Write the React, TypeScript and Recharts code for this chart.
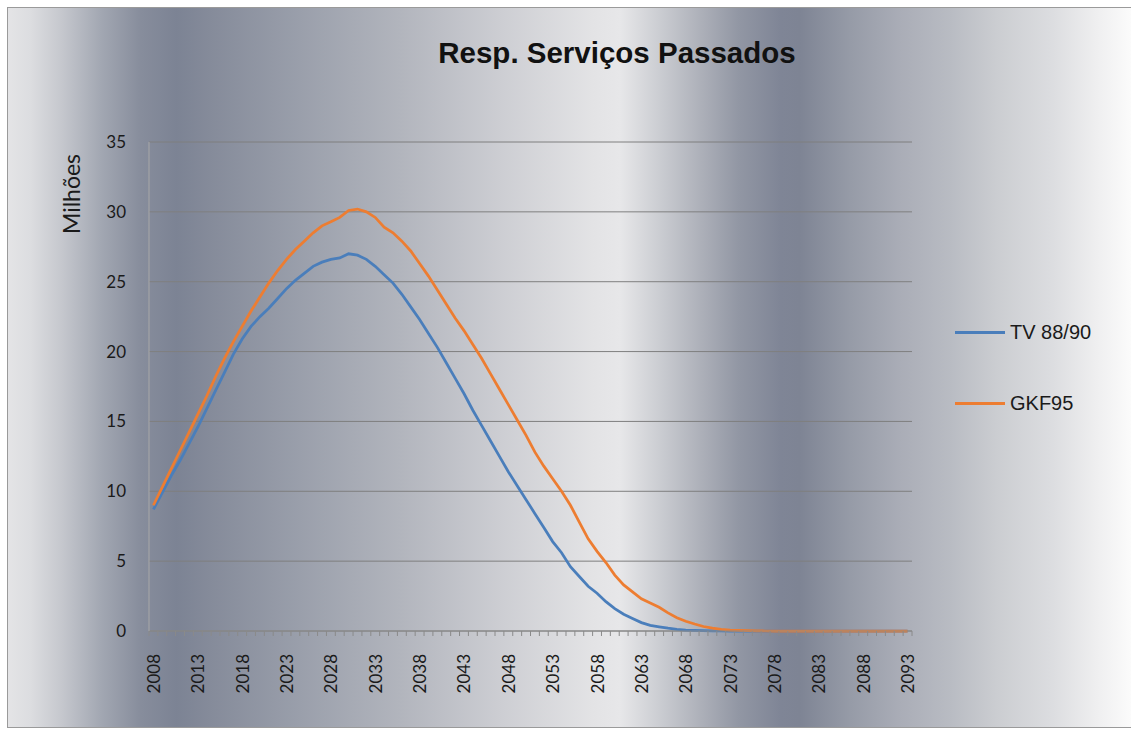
import React from 'react';
import { LineChart, Line, XAxis, YAxis, CartesianGrid, Legend } from 'recharts';

const years: number[] = [];
for (let y = 2008; y <= 2093; y++) years.push(y);

const tv8890: number[] = [
  8.7, 9.9, 11.1, 12.2, 13.4, 14.6, 15.9, 17.2, 18.5, 19.8,
  20.9, 21.8, 22.5, 23.1, 23.8, 24.5, 25.1, 25.6, 26.1, 26.4,
  26.6, 26.7, 27.0, 26.9, 26.6, 26.1, 25.5, 24.9, 24.1, 23.2,
  22.3, 21.3, 20.3, 19.2, 18.1, 17.0, 15.8, 14.7, 13.6, 12.5,
  11.4, 10.4, 9.4, 8.4, 7.4, 6.4, 5.6, 4.6, 3.9, 3.2,
  2.7, 2.1, 1.6, 1.2, 0.9, 0.6, 0.4, 0.3, 0.2, 0.12,
  0.07, 0.04, 0.02, 0.01, 0, 0, 0, 0, 0, 0,
  0, 0, 0, 0, 0, 0, 0, 0, 0, 0,
  0, 0, 0, 0, 0, 0,
];

const gkf95: number[] = [
  9.0, 10.3, 11.6, 12.9, 14.2, 15.5, 16.8, 18.2, 19.5, 20.7,
  21.8, 22.9, 23.9, 24.9, 25.8, 26.6, 27.3, 27.9, 28.5, 29.0,
  29.3, 29.6, 30.1, 30.2, 30.0, 29.6, 28.9, 28.5, 27.9, 27.2,
  26.3, 25.4, 24.4, 23.4, 22.4, 21.5, 20.5, 19.5, 18.4, 17.3,
  16.2, 15.1, 14.0, 12.8, 11.8, 10.9, 10.0, 9.0, 7.8, 6.6,
  5.7, 4.9, 4.0, 3.3, 2.8, 2.3, 2.0, 1.7, 1.3, 0.95,
  0.7, 0.5, 0.32, 0.2, 0.12, 0.07, 0.04, 0.02, 0.01, 0,
  0, 0, 0, 0, 0, 0, 0, 0, 0, 0,
  0, 0, 0, 0, 0, 0,
];

const yTicks = [0, 5, 10, 15, 20, 25, 30, 35];
const seriesNames = ['TV 88/90', 'GKF95'];
const seriesColors = ['#4A7EBB', '#ED7D31'];

const data = years.map((yr, i) => ({ year: String(yr), tv: tv8890[i], gkf: gkf95[i] }));

const W = 1123;
const H = 721;
const PLOT_LEFT = 141;
const PLOT_RIGHT = 904;
const PLOT_TOP = 134;
const PLOT_BOTTOM = 623;
const HALF = (PLOT_RIGHT - PLOT_LEFT) / years.length / 2;

const XTick = (props: any) => {
  const { x, y, payload, index } = props;
  const last = index === years.length - 1;
  return (
    <g>
      <line x1={x - HALF} y1={y} x2={x - HALF} y2={y + 5} stroke="#8a8a8a" strokeWidth={1} />
      {last && <line x1={x + HALF} y1={y} x2={x + HALF} y2={y + 5} stroke="#8a8a8a" strokeWidth={1} />}
      {index % 5 === 0 && (
        <text
          transform={`translate(${x},${y + 23}) rotate(-90)`}
          textAnchor="end"
          dominantBaseline="central"
          fontFamily="Lato"
          fontSize={17}
          fill="#1a1a1a"
        >
          {payload.value}
        </text>
      )}
    </g>
  );
};

const LegendContent = () => (
  <div style={{ fontFamily: '"Liberation Sans", Arial, sans-serif', fontSize: 20, color: '#1a1a1a' }}>
    {seriesNames.map((n, i) => (
      <div key={n} style={{ display: 'flex', alignItems: 'center', height: 24, marginBottom: i === 0 ? 47 : 0 }}>
        <div style={{ width: 50, height: 3, background: seriesColors[i], marginRight: 5 }} />
        <span>{n}</span>
      </div>
    ))}
  </div>
);

const bg =
  'linear-gradient(to right, #e4e4e6 0%, #dcdde0 2%, #c6c8ce 4.7%, #a2a7b2 8.3%, #878d9c 11.8%, #7c8394 15%, #858b9a 18%, #9a9fab 26%, #b2b5bd 35%, #cdced3 44%, #e3e3e5 52%, #e7e7e9 54.5%, #cbcdd2 58%, #adb0b9 61.7%, #9297a4 65%, #7f8596 68.8%, #7e8494 70.5%, #969ba7 75%, #aaadb7 79.5%, #b9bcc3 84%, #cbcdd1 88%, #dcdde0 93%, #efeff0 97%, #fbfbfb 100%)';

export default function App() {
  return (
    <div
      style={{
        position: 'absolute',
        left: 7,
        top: 7,
        width: W,
        height: H - 2,
        border: '1px solid #9a9a9a',
        borderRight: 'none',
        background: bg,
        overflow: 'hidden',
      }}
    >
      <div
        style={{
          position: 'absolute',
          left: 0,
          width: 1218,
          top: 28,
          textAlign: 'center',
          fontFamily: '"Liberation Sans", Arial, sans-serif',
          fontWeight: 'bold',
          fontSize: 29.5,
          color: '#111',
        }}
      >
        Resp. Serviços Passados
      </div>
      <LineChart
        width={W}
        height={H}
        data={data}
        margin={{ top: PLOT_TOP, right: W - PLOT_RIGHT, bottom: 0, left: 0 }}
      >
        <CartesianGrid vertical={false} stroke="#7f7f7f" strokeWidth={1} />
        <XAxis
          dataKey="year"
          interval={0}
          height={H - PLOT_BOTTOM}
          tick={<XTick />}
          tickLine={false}
          tickSize={0}
          tickMargin={0}
          axisLine={{ stroke: '#8a8a8a' }}
          padding={{ left: HALF, right: HALF }}
        />
        <YAxis
          width={PLOT_LEFT}
          domain={[0, 35]}
          ticks={yTicks}
          tickLine={false}
          tickSize={0}
          tickMargin={23}
          axisLine={{ stroke: '#a8a8a8' }}
          tick={{ fontFamily: 'Lato', fontSize: 17, fill: '#1a1a1a' }}
          label={{
            value: 'Milhões',
            content: () => (
              <text
                transform={`translate(63,186) rotate(-90)`}
                textAnchor="middle"
                dominantBaseline="central"
                fontFamily="Lato"
                fontSize={23}
                fill="#1a1a1a"
              >
                Milhões
              </text>
            ),
          }}
        />
        <Legend
          layout="vertical"
          verticalAlign="middle"
          align="center"
          content={<LegendContent />}
          wrapperStyle={{ position: 'absolute', left: 947, top: 312, width: 170 }}
        />
        <Line type="linear" dataKey="tv" name={seriesNames[0]} stroke={seriesColors[0]} strokeWidth={2.75} dot={false} isAnimationActive={false} />
        <Line type="linear" dataKey="gkf" name={seriesNames[1]} stroke={seriesColors[1]} strokeWidth={2.75} dot={false} isAnimationActive={false} />
      </LineChart>
    </div>
  );
}
